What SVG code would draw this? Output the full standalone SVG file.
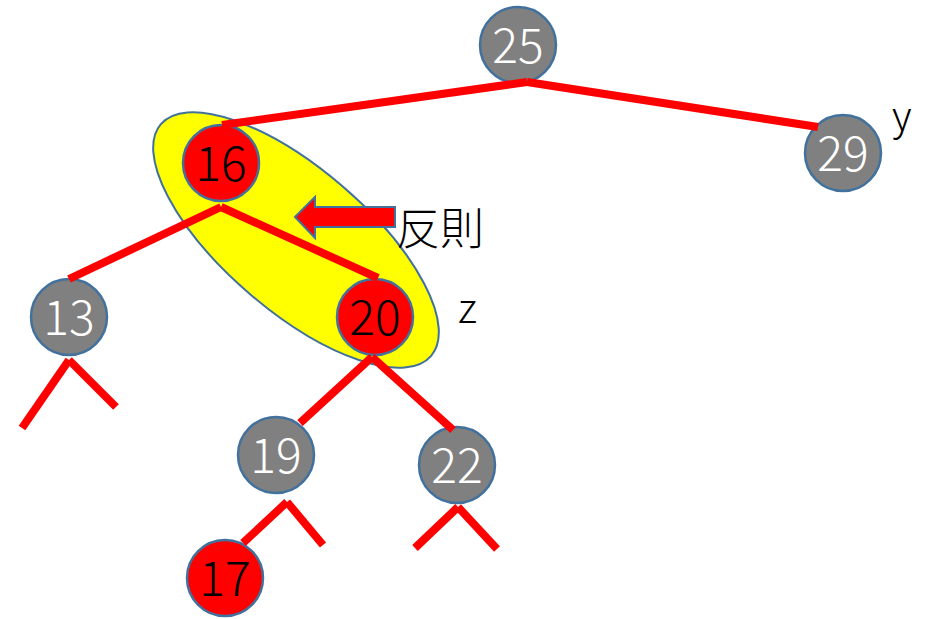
<svg xmlns="http://www.w3.org/2000/svg" width="938" height="619" viewBox="0 0 938 619">
<style>
.n circle{stroke:#41719C;stroke-width:2.5}
.g circle{fill:#808080}
.r circle{fill:#FF0000}
.n text{font-family:"Noto Sans CJK JP","Noto Sans",sans-serif;font-weight:300;font-size:48px;text-anchor:middle}
.g text{fill:#FFFFFF}
.r text{fill:#000000}
#edges line{stroke:#FF0000;stroke-width:8;stroke-linecap:butt}
.lbl{font-family:"Noto Sans CJK JP","Noto Sans",sans-serif;font-weight:300;fill:#000}
</style>
<rect width="938" height="619" fill="#FFFFFF"/>
<ellipse id="highlight" cx="296" cy="240" rx="178" ry="71" transform="rotate(40.6 296 240)" fill="#FFFF00" stroke="#41719C" stroke-width="2"/>
<g id="n25" class="n g"><circle cx="518" cy="45" r="38"/><text x="518" y="63">25</text></g>
<g id="n16" class="n r"><circle cx="221" cy="163" r="38"/><text x="221" y="181">16</text></g>
<g id="n29" class="n g"><circle cx="843" cy="153" r="38"/><text x="843" y="171">29</text></g>
<g id="n13" class="n g"><circle cx="69" cy="317" r="38"/><text x="69" y="335">13</text></g>
<g id="n20" class="n r"><circle cx="375" cy="317" r="38"/><text x="375" y="335">20</text></g>
<g id="n19" class="n g"><circle cx="276" cy="455" r="38"/><text x="276" y="473">19</text></g>
<g id="n22" class="n g"><circle cx="457" cy="465" r="38"/><text x="457" y="483">22</text></g>
<g id="n17" class="n r"><circle cx="225" cy="578" r="38"/><text x="225" y="596">17</text></g>
<g id="edges">
<line x1="527" y1="82" x2="222" y2="125"/>
<line x1="527" y1="82" x2="818" y2="127"/>
<line x1="221" y1="207" x2="69" y2="279"/>
<line x1="221" y1="207" x2="378" y2="278"/>
<line x1="372" y1="357" x2="300" y2="423"/>
<line x1="372" y1="357" x2="453" y2="430"/>
<line x1="69" y1="360" x2="22" y2="428"/>
<line x1="69" y1="360" x2="116" y2="407"/>
<line x1="287" y1="502" x2="243" y2="543"/>
<line x1="287" y1="502" x2="323" y2="545"/>
<line x1="458" y1="507" x2="415" y2="548"/>
<line x1="458" y1="507" x2="497" y2="549"/>
</g>
<g id="arrow"><path d="M295,217 L315,197 L315,207 L395,207 L395,227 L315,227 L315,238 Z" fill="#FF0000" stroke="#41719C" stroke-width="2"/></g>
<text class="lbl" x="396" y="245" font-size="44">反則</text>
<text class="lbl" x="892" y="130" font-size="40">y</text>
<text class="lbl" x="458" y="323" font-size="42">z</text>
</svg>
